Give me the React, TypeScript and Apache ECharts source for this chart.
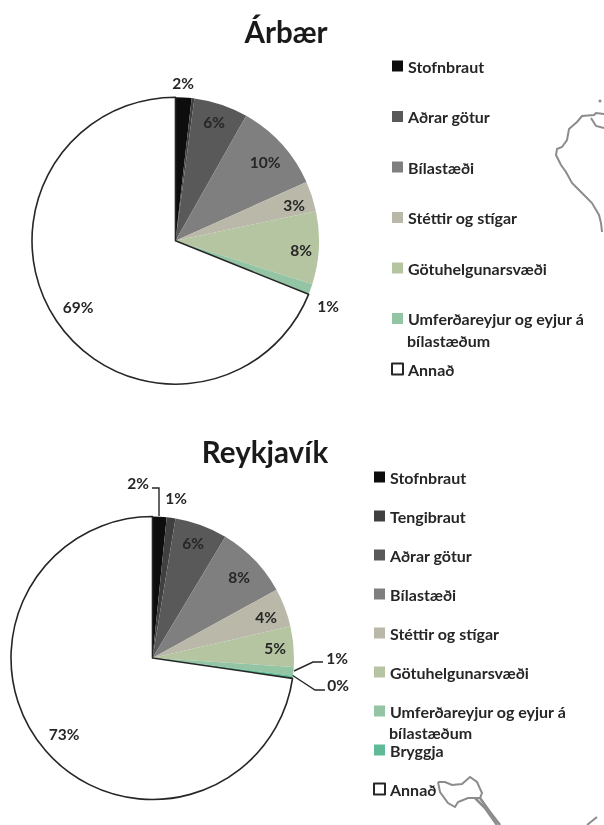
import React, { useEffect, useRef } from "react";
import * as echarts from "echarts";

const namesA = ["Stofnbraut", "Tengibraut", "Aðrar götur", "Bílastæði", "Stéttir og stígar", "Götuhelgunarsvæði", "Umferðareyjur og eyjur á", "Annað"];
const valuesA = [1.8, 0.3, 6.1, 10.1, 3.4, 8.2, 1.2, 68.9];
const legendA = ["Stofnbraut", "Aðrar götur", "Bílastæði", "Stéttir og stígar", "Götuhelgunarsvæði", "Umferðareyjur og eyjur á", "Annað"];
const colorsA = ["#0d0d0d", "#404040", "#595959", "#7f7f7f", "#bab8a9", "#b5c4a1", "#93c4a4", "#ffffff"];

const namesB = ["Stofnbraut", "Tengibraut", "Aðrar götur", "Bílastæði", "Stéttir og stígar", "Götuhelgunarsvæði", "Umferðareyjur og eyjur á", "Bryggja", "Annað"];
const valuesB = [1.6, 1.0, 6.0, 8.4, 4.4, 4.6, 1.0, 0.3, 72.7];
const colorsB = ["#0d0d0d", "#404040", "#595959", "#7f7f7f", "#bab8a9", "#b5c4a1", "#93c4a4", "#5fbb97", "#ffffff"];

// label centres
const labelPosA: (number[] | null)[] = [[183, 83], null, [214, 122], [265, 162], [294, 205], [301, 250], [328, 306], [78, 307]];
const labelPosB: number[][] = [[138, 483], [176, 498], [193, 543], [239, 577], [266, 617], [275, 648], [337, 658], [338, 685], [64, 734]];

const FONT = "Lato, 'Noto Sans', sans-serif";
const INK = "#262626";

const coast1 = [[604, 114], [596, 113], [594, 115], [582, 116], [577, 122], [569, 129], [567, 140], [562, 147], [557, 149], [556, 155], [561, 165], [566, 172], [572, 183], [579, 190], [586, 197], [592, 203], [599, 215], [601, 223], [602, 232]];
const coast2 = [[591, 118], [596, 126], [604, 128]];
const coast3 = [[438, 782], [445, 782], [452, 785], [462, 784], [470, 777], [477, 782], [482, 793], [480, 798], [468, 798], [458, 802], [455, 807], [448, 803], [440, 792], [438, 782]];
const coast4 = [[475, 798], [485, 808], [497, 825]];
const coast5 = [[480, 798], [490, 812], [500, 825]];
const coast6 = [[597, 817], [587, 825]];
const leaders = [
  [[152, 488], [159, 488], [159, 516]],
  [[294, 671], [313, 662], [323, 662]],
  [[292, 675], [315, 690], [325, 690]],
];

function pieData(names: string[], values: number[], colors: string[]) {
  return names.map((name, i) => ({
    name,
    value: values[i],
    itemStyle:
      name === "Annað"
        ? { color: colors[i], borderColor: INK, borderWidth: 1.6 }
        : { color: colors[i], borderWidth: 0 },
  }));
}

function pieSeries(data: any[], center: number[], radius: number, pos: (number[] | null)[]) {
  return {
    type: "pie",
    center,
    radius,
    startAngle: 90,
    clockwise: true,
    minShowLabelAngle: 0,
    avoidLabelOverlap: false,
    silent: true,
    data,
    label: {
      show: true,
      position: "inside",
      fontFamily: FONT,
      fontSize: 15.5,
      fontWeight: 700,
      color: INK,
      formatter: (p: any) => (pos[p.dataIndex] ? Math.round(p.value) + "%" : ""),
    },
    labelLine: { show: false },
    labelLayout: (p: any) => {
      const c = pos[p.dataIndex];
      return c ? { x: c[0], y: c[1], align: "center", verticalAlign: "middle" } : {};
    },
  };
}

function legend(names: string[], left: number, top: number, gap: number) {
  return {
    orient: "vertical",
    left,
    top,
    padding: 0,
    itemGap: gap,
    itemWidth: 11,
    itemHeight: 11,
    icon: "rect",
    selectedMode: false,
    data: names.map((name) => ({ name })),
    textStyle: { fontFamily: FONT, fontSize: 16, fontWeight: 700, color: INK, lineHeight: 16 },
  };
}

function line(points: number[][], color: string, lineWidth: number) {
  return { type: "polyline", silent: true, shape: { points }, style: { stroke: color, fill: "none", lineWidth } };
}

export default function App() {
  const ref = useRef<HTMLDivElement>(null);
  useEffect(() => {
    const chart = echarts.init(ref.current!, null, { renderer: "svg" });
    chart.setOption({
      animation: false,
      backgroundColor: "#ffffff",
      title: [
        { text: "Árbær", left: 286, top: 16, padding: 0, textAlign: "center", textStyle: { fontFamily: FONT, fontSize: 29.5, fontWeight: 700, color: "#1a1a1a" } },
        { text: "Reykjavík", left: 265, top: 436, padding: 0, textAlign: "center", textStyle: { fontFamily: FONT, fontSize: 29.5, fontWeight: 700, color: "#1a1a1a" } },
      ],
      legend: [legend(legendA, 391, 58, 34.5), legend(namesB, 373, 469, 23)],
      series: [
        pieSeries(pieData(namesA, valuesA, colorsA), [175.5, 240.7], 143.5, labelPosA),
        pieSeries(pieData(namesB, valuesB, colorsB), [152.5, 658], 141.5, labelPosB),
      ],
      graphic: [
        line(coast1, "#8c8c8c", 2),
        line(coast2, "#8c8c8c", 2),
        line(coast3, "#8c8c8c", 2),
        line(coast4, "#8c8c8c", 2.5),
        line(coast5, "#8c8c8c", 2.5),
        line(coast6, "#8c8c8c", 2),
        { type: "circle", silent: true, shape: { cx: 600, cy: 101, r: 1.5 }, style: { fill: "#8c8c8c" } },
        ...leaders.map((p) => line(p, INK, 1.4)),
        { type: "text", silent: true, x: 407, y: 340, style: { text: "bílastæðum", font: `700 16px ${FONT}`, fill: INK, verticalAlign: "middle" } },
        { type: "text", silent: true, x: 389, y: 732, style: { text: "bílastæðum", font: `700 16px ${FONT}`, fill: INK, verticalAlign: "middle" } },
      ],
    });
    return () => chart.dispose();
  }, []);
  return <div ref={ref} style={{ position: "fixed", left: 0, top: 0, width: 604, height: 825, filter: "blur(0.5px)" }} />;
}
